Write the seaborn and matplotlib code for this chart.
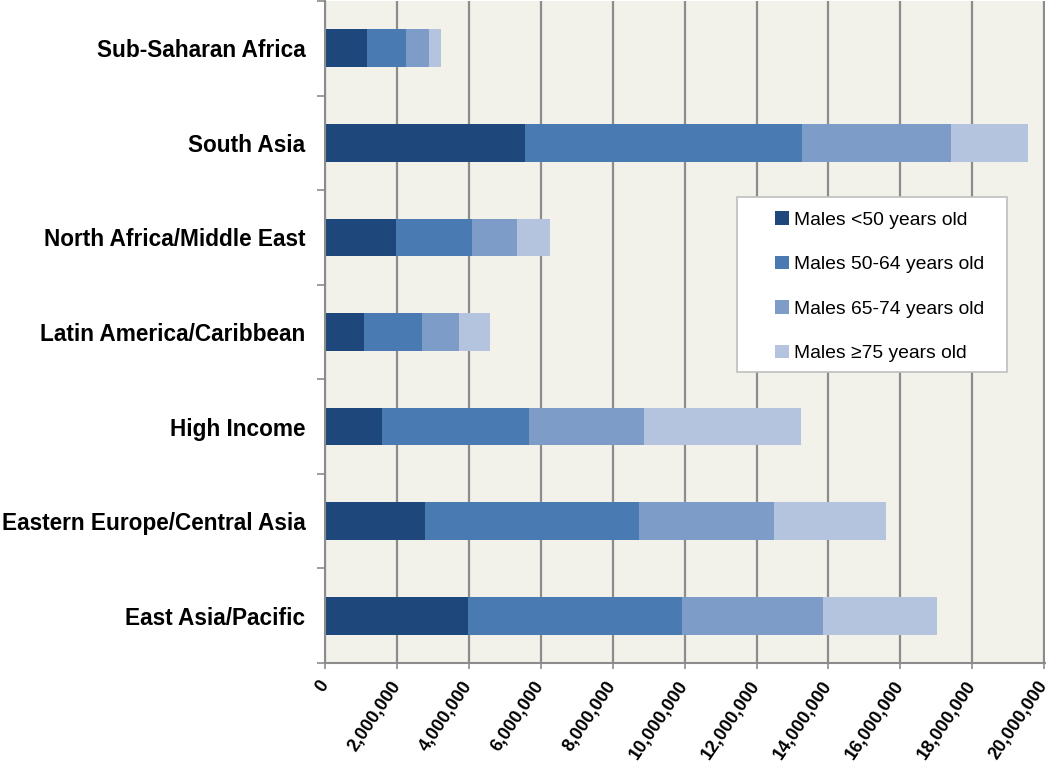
import matplotlib
matplotlib.use("Agg")
import numpy as np
import pandas as pd
import seaborn as sns
import matplotlib.pyplot as plt
from matplotlib.patches import Patch, Rectangle
from matplotlib.ticker import FixedLocator

# ---- data ----
regions = ["Sub-Saharan Africa", "South Asia", "North Africa/Middle East",
           "Latin America/Caribbean", "High Income",
           "Eastern Europe/Central Asia", "East Asia/Pacific"]
males_lt50 = [1.18e6, 5.57e6, 1.97e6, 1.08e6, 1.59e6, 2.79e6, 3.97e6]
males_50_64 = [1.07e6, 7.69e6, 2.11e6, 1.61e6, 4.07e6, 5.95e6, 5.95e6]
males_65_74 = [0.65e6, 4.16e6, 1.25e6, 1.04e6, 3.22e6, 3.74e6, 3.93e6]
males_75p = [0.32e6, 2.12e6, 0.93e6, 0.86e6, 4.35e6, 3.11e6, 3.16e6]
series_labels = ["Males <50 years old", "Males 50-64 years old",
                 "Males 65-74 years old", "Males \u226575 years old"]
x_ticks = [0, 2e6, 4e6, 6e6, 8e6, 10e6, 12e6, 14e6, 16e6, 18e6, 20e6]
x_tick_labels = ["0", "2,000,000", "4,000,000", "6,000,000", "8,000,000",
                 "10,000,000", "12,000,000", "14,000,000", "16,000,000",
                 "18,000,000", "20,000,000"]
colors = ["#1E487B", "#4A7AB2", "#7E9CC8", "#B4C3DE"]

series = [males_lt50, males_50_64, males_65_74, males_75p]
cum = np.cumsum(np.array(series), axis=0)

sns.set_theme(style="white")
plt.rcParams["font.family"] = ["Liberation Sans", "DejaVu Sans"]

W, H = 1050, 765
fig = plt.figure(figsize=(W / 100, H / 100), dpi=100)
ax = fig.add_axes([325 / W, (H - 663) / H, 720 / W, 662 / H])
ax.set_facecolor("#F2F1EA")

# draw stacked bars: largest cumulative first, overlay smaller ones
for i in range(len(series) - 1, -1, -1):
    df = pd.DataFrame({"region": regions, "value": cum[i]})
    sns.barplot(data=df, x="value", y="region", order=regions, orient="h",
                color=colors[i], width=0.4, saturation=1, linewidth=0,
                edgecolor="none", ax=ax)

ax.set_xlim(0, 20.02e6)
ax.set_ylim(len(regions) - 0.5, -0.5)
ax.set_axisbelow(True)
ax.xaxis.set_major_locator(FixedLocator(x_ticks))
ax.set_xticklabels(x_tick_labels, rotation=56, ha="right", va="center",
                   rotation_mode="anchor", fontsize=13, fontweight="bold",
                   color="black")
ax.grid(axis="x", color="#8C8C8C", linewidth=1.6)
ax.grid(axis="y", visible=False)
ax.tick_params(axis="x", which="major", direction="out", length=4,
               width=1.2, color="#8C8C8C", pad=10, bottom=True)

ax.yaxis.set_minor_locator(FixedLocator(np.arange(-0.5, len(regions), 1.0)))
ax.tick_params(axis="y", which="minor", direction="out", length=5.5,
               width=1.2, color="#8C8C8C", left=True)
ax.tick_params(axis="y", which="major", length=0, pad=14)
ax.set_yticklabels(regions, fontsize=16.3, fontweight="bold", color="black")
ax.set_xlabel("")
ax.set_ylabel("")

for s in ["top", "right"]:
    ax.spines[s].set_visible(False)
for s in ["left", "bottom"]:
    ax.spines[s].set_color("#8C8C8C")
    ax.spines[s].set_linewidth(1.5)

# legend box
x0 = (737 - 325) / 720
x1 = (1007 - 325) / 720
y0 = (663 - 372) / 662
y1 = (663 - 197) / 662
ax.add_patch(Rectangle((x0, y0), x1 - x0, y1 - y0, transform=ax.transAxes,
                       facecolor="white", edgecolor="#BFBFBF", linewidth=1.2,
                       zorder=5))
handles = [Patch(facecolor=c, edgecolor="none") for c in colors]
leg = ax.legend(handles, series_labels, loc="upper left",
                bbox_to_anchor=((775 - 325) / 720, (663 - 211) / 662),
                frameon=False, fontsize=13.9, handlelength=0.7,
                handleheight=0.7, handletextpad=0.3, labelspacing=1.4,
                borderpad=0, borderaxespad=0, labelcolor="black")
leg.set_zorder(6)

fig.savefig("out.png", dpi=100, facecolor="white")
